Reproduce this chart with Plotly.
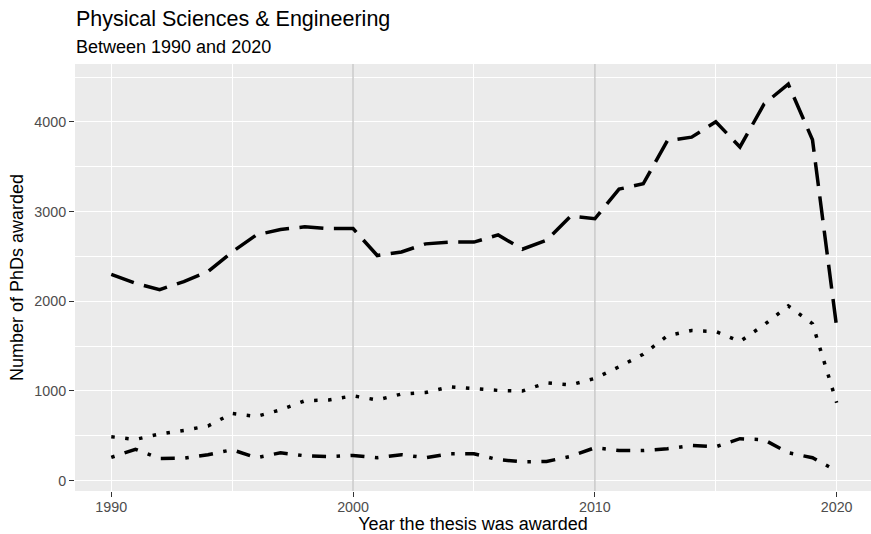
import plotly.graph_objects as go

years = list(range(1990, 2021))

series_long = [2300, 2200, 2130, 2220, 2330, 2550, 2740, 2800, 2830, 2810,
               2810, 2510, 2550, 2640, 2660, 2660, 2740, 2580, 2680, 2950,
               2920, 3250, 3310, 3790, 3830, 4000, 3720, 4200, 4420, 3800,
               1710]
series_dot = [490, 460, 520, 560, 610, 750, 716, 790, 890, 900,
              946, 900, 966, 983, 1047, 1028, 1006, 1000, 1090, 1069,
              1140, 1270, 1410, 1615, 1674, 1663, 1552, 1737, 1948, 1750,
              870]
series_dotdash = [260, 350, 248, 250, 290, 345, 256, 311, 278, 267,
                  282, 256, 290, 256, 300, 300, 234, 211, 215, 271,
                  367, 337, 337, 356, 393, 378, 468, 456, 311, 256,
                  110]

highlight_years = [2000, 2010]
x_ticks = [1990, 2000, 2010, 2020]
y_ticks = [0, 1000, 2000, 3000, 4000]
x_range = [1988.5, 2021.42]
y_range = [-115, 4645]

title_text = "Physical Sciences & Engineering"
subtitle_text = "Between 1990 and 2020"
x_title = "Year the thesis was awarded"
y_title = "Number of PhDs awarded"

FONT = "Liberation Sans, Arial, sans-serif"

fig = go.Figure()

# highlighted reference years (drawn first, under the data lines)
for yr in highlight_years:
    fig.add_trace(go.Scatter(
        x=[yr, yr], y=y_range, mode="lines",
        line=dict(color="#BDBDBD", width=1.2),
        showlegend=False, hoverinfo="skip",
    ))

styles = [
    (series_long, "24px,10.5px"),
    (series_dot, "3.5px,10.5px"),
    (series_dotdash, "3.5px,10.5px,14px,10.5px"),
]
for vals, dash in styles:
    fig.add_trace(go.Scatter(
        x=years, y=vals, mode="lines",
        line=dict(color="black", width=3.5, dash=dash),
        showlegend=False, hoverinfo="skip",
    ))

fig.update_layout(
    width=871, height=534,
    margin=dict(l=75, r=0, t=64, b=43, autoexpand=False),
    paper_bgcolor="white",
    plot_bgcolor="#EBEBEB",
    font=dict(family=FONT, color="#4D4D4D", size=14),
    showlegend=False,
    annotations=[
        dict(text=title_text, xref="paper", yref="paper", x=0, y=1,
             xanchor="left", yanchor="middle", showarrow=False,
             xshift=-1, yshift=45.5,
             font=dict(family=FONT, size=21.5, color="black")),
        dict(text=subtitle_text, xref="paper", yref="paper", x=0, y=1,
             xanchor="left", yanchor="middle", showarrow=False,
             xshift=-1, yshift=17.5,
             font=dict(family=FONT, size=18, color="black")),
    ],
)

fig.update_xaxes(
    range=x_range, automargin=False,
    tickmode="array", tickvals=x_ticks, ticktext=[str(t) for t in x_ticks],
    showgrid=True, gridcolor="white", gridwidth=1.3,
    minor=dict(showgrid=True, gridcolor="white", gridwidth=0.7, dtick=5, tick0=1990),
    ticks="outside", ticklen=5, tickcolor="#333333", tickwidth=1.2,
    ticklabelstandoff=-2,
    tickfont=dict(family=FONT, size=14.3, color="#4D4D4D"),
    zeroline=False, showline=False,
    title=dict(text=x_title, standoff=2, font=dict(family=FONT, size=18, color="black")),
)
fig.update_yaxes(
    range=y_range, automargin=False,
    tickmode="array", tickvals=y_ticks, ticktext=[str(t) for t in y_ticks],
    showgrid=True, gridcolor="white", gridwidth=1.3,
    minor=dict(showgrid=True, gridcolor="white", gridwidth=0.7, dtick=500, tick0=0),
    ticks="outside", ticklen=5, tickcolor="#333333", tickwidth=1.2,
    tickfont=dict(family=FONT, size=14.3, color="#4D4D4D"),
    zeroline=False, showline=False,
    title=dict(text=y_title, standoff=6, font=dict(family=FONT, size=18, color="black")),
)

fig.write_html(
    "out.html",
    config={"displayModeBar": False},
    post_script="document.body.style.margin='0';document.body.style.padding='0';"
                "document.body.style.overflow='hidden';",
)
